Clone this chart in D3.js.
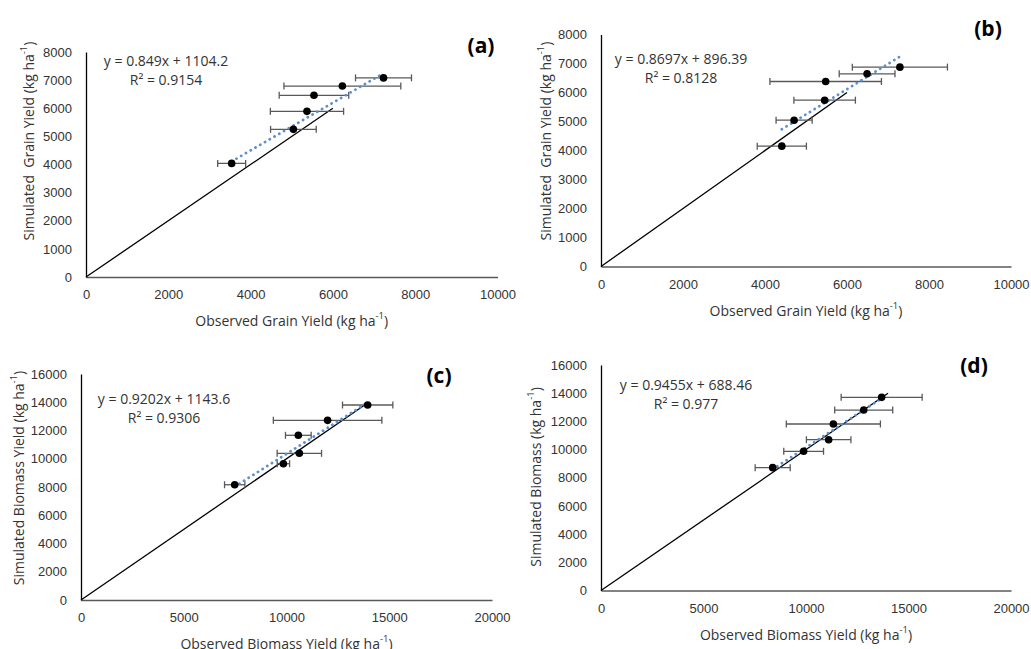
<!DOCTYPE html>
<html>
<head>
<meta charset="utf-8">
<script src="https://cdn.jsdelivr.net/npm/d3@7"></script>
<style>
  body { margin: 0; background: #fff; }
  svg { font-family: "Open Sans", "Noto Sans", sans-serif; }
  .tick text { font-size: 13px; fill: #333; }
  .title { font-size: 14px; fill: #333; white-space: pre; }
  .eq { font-size: 14px; fill: #333; }
  .tag { font-size: 21px; font-weight: bold; fill: #000; }
</style>
</head>
<body>
<svg id="chart" width="1031" height="649"></svg>
<script>
// Observed vs simulated values
const obsA = [3540, 5040, 5370, 5540, 6230, 7230];
const simA = [4040, 5250, 5890, 6460, 6790, 7080];
const errA = [340, 555, 890, 845, 1420, 680];

const obsB = [4410, 4710, 5455, 5480, 6490, 7290];
const simB = [4150, 5045, 5735, 6380, 6645, 6875];
const errB = [600, 440, 750, 1360, 680, 1160];

const obsC = [7480, 9850, 10625, 10575, 12000, 13950];
const simC = [8160, 9650, 10385, 11660, 12720, 13805];
const errC = [495, 300, 1080, 625, 2640, 1225];

const obsD = [8375, 9885, 11105, 11335, 12815, 13690];
const simD = [8715, 9875, 10700, 11815, 12805, 13705];
const errD = [855, 970, 1085, 2295, 1415, 1975];

// Trendlines (Excel linear fit) and 1:1 line ends
const slopes = [0.849, 0.8697, 0.9202, 0.9455];
const intercepts = [1104.2, 896.39, 1143.6, 688.46];
const equations = ["y = 0.849x + 1104.2", "y = 0.8697x + 896.39", "y = 0.9202x + 1143.6", "y = 0.9455x + 688.46"];
const r2Labels = ["R² = 0.9154", "R² = 0.8128", "R² = 0.9306", "R² = 0.977"];
const oneToOneEnd = [6000, 6000, 14000, 14000];

// Axis ticks
const grainXTicks = [0, 2000, 4000, 6000, 8000, 10000];
const grainYTicks = [0, 1000, 2000, 3000, 4000, 5000, 6000, 7000, 8000];
const bioXTicks = [0, 5000, 10000, 15000, 20000];
const bioYTicks = [0, 2000, 4000, 6000, 8000, 10000, 12000, 14000, 16000];

const panelTags = ["(a)", "(b)", "(c)", "(d)"];
const xTitles = ["Observed Grain Yield (kg ha", "Observed Grain Yield (kg ha", "Observed Biomass Yield (kg ha", "Observed Biomass Yield (kg ha"];
const yTitles = ["Simulated  Grain Yield (kg ha", "Simulated  Grain Yield (kg ha", "Simulated Biomass Yield (kg ha", "Simulated Biomass (kg ha"];

// layout of each panel (pixel box + label spots)
const layout = [
  { l: 86, r: 497.5, t: 52, b: 277, yTitleX: 28, yTitleY: 141, eqX: 166, eqY: 60, tagX: 481, tagY: 45 },
  { l: 601, r: 1011, t: 34.5, b: 266.5, yTitleX: 545, yTitleY: 141, eqX: 681, eqY: 58, tagX: 988, tagY: 28 },
  { l: 81, r: 492, t: 374, b: 600, yTitleX: 18, yTitleY: 478, eqX: 164, eqY: 398, tagX: 439, tagY: 375 },
  { l: 601, r: 1011, t: 365, b: 590.5, yTitleX: 535, yTitleY: 477, eqX: 686, eqY: 384, tagX: 974, tagY: 365 }
];

const panels = [
  { obs: obsA, sim: simA, err: errA, xTicks: grainXTicks, yTicks: grainYTicks },
  { obs: obsB, sim: simB, err: errB, xTicks: grainXTicks, yTicks: grainYTicks },
  { obs: obsC, sim: simC, err: errC, xTicks: bioXTicks, yTicks: bioYTicks },
  { obs: obsD, sim: simD, err: errD, xTicks: bioXTicks, yTicks: bioYTicks }
];

const svg = d3.select("#chart");

panels.forEach((p, i) => {
  const box = layout[i];
  const x = d3.scaleLinear().domain(d3.extent(p.xTicks)).range([box.l, box.r]);
  const y = d3.scaleLinear().domain(d3.extent(p.yTicks)).range([box.b, box.t]);
  const g = svg.append("g");

  // axes
  const xAxis = g.append("g")
    .attr("transform", `translate(0,${box.b})`)
    .call(d3.axisBottom(x).tickValues(p.xTicks).tickSize(0).tickPadding(13).tickFormat(d3.format("d")));
  xAxis.select(".domain").attr("stroke", "#595959").attr("stroke-width", 1.6);
  xAxis.selectAll(".tick text").attr("font-family", null);

  const yAxis = g.append("g")
    .attr("transform", `translate(${box.l},0)`)
    .call(d3.axisLeft(y).tickValues(p.yTicks).tickSize(0).tickPadding(14).tickFormat(d3.format("d")));
  yAxis.select(".domain").attr("stroke", "#000").attr("stroke-width", 1.3);
  yAxis.selectAll(".tick text").attr("font-family", null);
  g.selectAll(".tick line").remove();

  // 1:1 line
  g.append("line")
    .attr("x1", x(0)).attr("y1", y(0))
    .attr("x2", x(oneToOneEnd[i])).attr("y2", y(oneToOneEnd[i]))
    .attr("stroke", "#000").attr("stroke-width", 1.3);

  // error bars
  const idx = d3.range(p.obs.length);
  const eb = g.append("g").attr("stroke", "#595959").attr("stroke-width", 1.3);
  idx.forEach(k => {
    const cy = y(p.sim[k]);
    const x0 = x(p.obs[k] - p.err[k]), x1 = x(p.obs[k] + p.err[k]);
    eb.append("line").attr("x1", x0).attr("x2", x1).attr("y1", cy).attr("y2", cy);
    eb.append("line").attr("x1", x0).attr("x2", x0).attr("y1", cy - 3.5).attr("y2", cy + 3.5);
    eb.append("line").attr("x1", x1).attr("x2", x1).attr("y1", cy - 3.5).attr("y2", cy + 3.5);
  });

  // trendline
  const [xmin, xmax] = d3.extent(p.obs);
  g.append("line")
    .attr("x1", x(xmin)).attr("y1", y(slopes[i] * xmin + intercepts[i]))
    .attr("x2", x(xmax)).attr("y2", y(slopes[i] * xmax + intercepts[i]))
    .attr("stroke", "#5b8fd0").attr("stroke-width", 2.8)
    .attr("stroke-linecap", "round").attr("stroke-dasharray", "0.1 5.4");

  // points
  g.selectAll("circle.pt").data(idx).enter().append("circle")
    .attr("class", "pt")
    .attr("cx", k => x(p.obs[k])).attr("cy", k => y(p.sim[k]))
    .attr("r", 3.8).attr("fill", "#000");

  // equation
  g.append("text").attr("class", "eq").attr("x", box.eqX).attr("y", box.eqY)
    .attr("text-anchor", "middle").attr("dominant-baseline", "central").text(equations[i]);
  g.append("text").attr("class", "eq").attr("x", box.eqX).attr("y", box.eqY + 19)
    .attr("text-anchor", "middle").attr("dominant-baseline", "central").text(r2Labels[i]);

  // panel tag
  g.append("text").attr("class", "tag").attr("x", box.tagX).attr("y", box.tagY)
    .attr("text-anchor", "middle").attr("dominant-baseline", "central").text(panelTags[i]);

  // axis titles
  const xt = g.append("text").attr("class", "title")
    .attr("x", (box.l + box.r) / 2).attr("y", box.b + 43)
    .attr("text-anchor", "middle").attr("dominant-baseline", "central");
  xt.append("tspan").text(xTitles[i]);
  xt.append("tspan").attr("dy", -5).attr("font-size", 9.5).text("-1");
  xt.append("tspan").attr("dy", 5).text(")");

  const yt = g.append("text").attr("class", "title")
    .attr("transform", `translate(${box.yTitleX},${box.yTitleY}) rotate(-90)`)
    .attr("text-anchor", "middle").attr("dominant-baseline", "central");
  yt.append("tspan").text(yTitles[i]);
  yt.append("tspan").attr("dy", -5).attr("font-size", 9.5).text("-1");
  yt.append("tspan").attr("dy", 5).text(")");
});
</script>
</body>
</html>
